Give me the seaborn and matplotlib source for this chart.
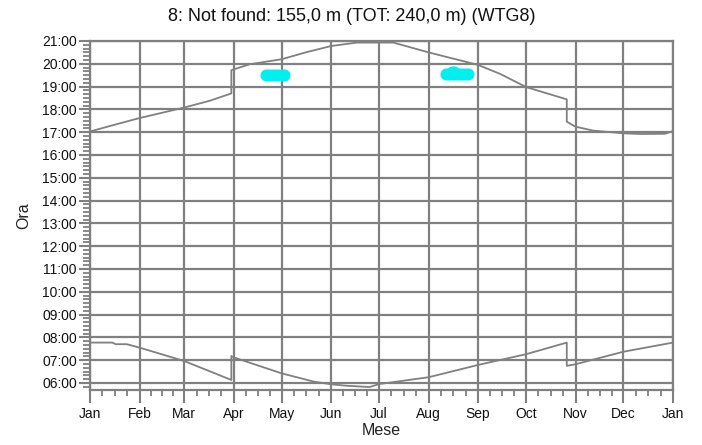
import numpy as np
import pandas as pd
import seaborn as sns
import matplotlib.pyplot as plt
from matplotlib.ticker import FixedLocator, MultipleLocator

# day of year (0 = 1 Jan) and clock time in hours
sunset_day = [0, 14, 31, 59, 75, 88.5, 88.5, 92, 100, 120, 135, 151, 167, 190, 212, 243, 257, 273,
              298.5, 298.5, 304, 315, 334, 345, 360, 365]
sunset_hr = [17.03, 17.30, 17.62, 18.08, 18.38, 18.70, 19.72, 19.80, 19.98, 20.20, 20.50, 20.78, 20.93,
             20.93, 20.50, 19.95, 19.55, 18.98, 18.44, 17.46, 17.24, 17.07, 16.95, 16.92, 16.93, 17.05]

sunrise_day = [0, 14, 16, 23, 31, 59, 88.5, 88.5, 90, 120, 140, 151, 160, 175, 181, 212, 243,
               273, 298.5, 298.5, 304, 334, 365]
sunrise_hr = [7.77, 7.77, 7.70, 7.70, 7.55, 6.96, 6.13, 7.18, 7.12, 6.42, 6.06, 5.94, 5.88, 5.82,
              5.95, 6.25, 6.79, 7.26, 7.77, 6.75, 6.82, 7.37, 7.77]

# shadow flicker spots
flick_day = [110, 112, 114, 116, 118, 120, 121.5,
             223, 225, 227, 229, 231, 233, 235, 236.5, 226.5, 228]
flick_hr = [19.49, 19.49, 19.49, 19.49, 19.49, 19.49, 19.49,
            19.55, 19.55, 19.55, 19.55, 19.55, 19.55, 19.55, 19.55, 19.66, 19.66]

month_start = [0, 31, 59, 90, 120, 151, 181, 212, 243, 273, 304, 334, 365]
month_lbl = ['Jan', 'Feb', 'Mar', 'Apr', 'May', 'Jun', 'Jul', 'Aug', 'Sep', 'Oct', 'Nov', 'Dec', 'Jan']
hour_ticks = list(range(6, 22))

sns.set_style('white')
plt.rcParams['font.family'] = ['Liberation Sans', 'DejaVu Sans']

gray = '#808080'
fig = plt.figure(figsize=(7.02, 4.45), dpi=100)
ax = fig.add_axes([90 / 702, 1 - 390 / 445, 583 / 702, 349 / 445])

for xs, ys in [(sunset_day, sunset_hr), (sunrise_day, sunrise_hr)]:
    sns.lineplot(x=xs, y=ys, ax=ax, color=gray, lw=1.3, sort=False, estimator=None, zorder=3)

sns.scatterplot(x=flick_day, y=flick_hr, ax=ax, color='#00f0f0', s=75, linewidth=0, zorder=4)

ax.set_xlim(0, 365)
ax.set_ylim(5.69, 21.0)

ax.set_xticks(month_start)
ax.set_xticklabels(month_lbl)
minor_x = []
for a, b in zip(month_start[:-1], month_start[1:]):
    minor_x += [a + (b - a) * k / 4 for k in (1, 2, 3)]
ax.xaxis.set_minor_locator(FixedLocator(minor_x))

ax.set_yticks(hour_ticks)
ax.set_yticklabels([f'{h:02d}:00' for h in hour_ticks])
ax.yaxis.set_minor_locator(MultipleLocator(1 / 6))

ax.grid(True, which='major', color=gray, lw=1.6)
ax.set_axisbelow(True)
for s in ax.spines.values():
    s.set_color(gray)
    s.set_linewidth(1.6)

ax.tick_params(axis='x', which='major', direction='out', length=9, width=1.5, color=gray,
               labelsize=10, pad=3, labelcolor='#111111', bottom=True)
ax.tick_params(axis='x', which='minor', direction='out', length=4.5, width=1.3, color=gray, bottom=True)
ax.tick_params(axis='y', which='major', direction='out', length=8, width=1.5, color=gray,
               labelsize=10, pad=1.5, labelcolor='#111111', left=True)
ax.tick_params(axis='y', which='minor', direction='out', length=5, width=1.3, color=gray, left=True)

ax.set_xlabel('Mese', fontsize=11.5, labelpad=2, color='#222222')
ax.set_ylabel('Ora', fontsize=11.5, labelpad=8, color='#222222')

fig.suptitle('8: Not found: 155,0 m (TOT: 240,0 m) (WTG8)', x=352 / 702, y=1 - 8 / 445,
             va='top', fontsize=13, color='#111111')

fig.savefig('out.png', dpi=100)
